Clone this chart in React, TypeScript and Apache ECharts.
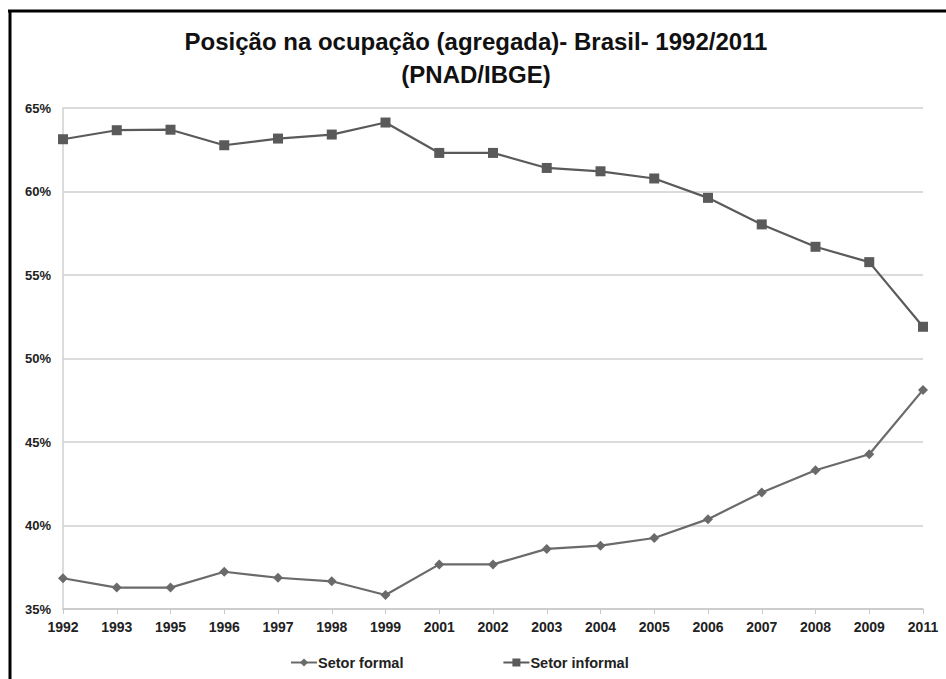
import React, { useEffect, useRef } from "react";
import * as echarts from "echarts";

const years = ["1992","1993","1995","1996","1997","1998","1999","2001","2002","2003","2004","2005","2006","2007","2008","2009","2011"];
const setorFormal = [36.84,36.28,36.28,37.23,36.87,36.66,35.84,37.67,37.67,38.6,38.79,39.25,40.38,41.98,43.31,44.27,48.12];
const setorInformal = [63.13,63.67,63.7,62.77,63.17,63.41,64.13,62.31,62.31,61.41,61.21,60.78,59.62,58.03,56.69,55.77,51.9];
const yTicks = { min: 35, max: 65, interval: 5 };
const titleLines = ["Posição na ocupação (agregada)- Brasil- 1992/2011", "(PNAD/IBGE)"];

const FONT = "'Liberation Sans', Arial, sans-serif";

export default function App() {
  const ref = useRef<HTMLDivElement>(null);
  useEffect(() => {
    if (!ref.current) return;
    const chart = echarts.init(ref.current, undefined, { renderer: "svg" });
    chart.setOption({
      animation: false,
      backgroundColor: "#ffffff",
      grid: { left: 63, right: 23, top: 108, bottom: 70, containLabel: false },
      legend: {
        top: 650,
        left: 285,
        itemGap: 99,
        itemWidth: 26,
        itemHeight: 10,
        textStyle: { fontFamily: FONT, fontWeight: "bold", fontSize: 14.5, color: "#222", padding: [0, 0, 0, -4] },
        data: ["Setor formal", "Setor informal"],
      },
      graphic: [
        { type: "line", shape: { x1: 8, y1: 11, x2: 946, y2: 11 }, style: { stroke: "#000", lineWidth: 3 } },
        { type: "line", shape: { x1: 10, y1: 10, x2: 10, y2: 679 }, style: { stroke: "#000", lineWidth: 3 } },
        {
          type: "text",
          x: 476,
          y: 41,
          style: { text: titleLines[0], textAlign: "center", textVerticalAlign: "middle", font: "bold 24px " + FONT, fill: "#111" },
        },
        {
          type: "text",
          x: 476,
          y: 74,
          style: { text: titleLines[1], textAlign: "center", textVerticalAlign: "middle", font: "bold 24px " + FONT, fill: "#111" },
        },
      ],
      xAxis: {
        type: "category",
        data: years,
        boundaryGap: false,
        axisLine: { lineStyle: { color: "#c8c8c8", width: 1.5 } },
        axisTick: { show: true, length: 5, lineStyle: { color: "#c8c8c8" } },
        axisLabel: { fontFamily: FONT, fontWeight: "bold", fontSize: 14, color: "#222", margin: 11 },
        splitLine: { show: false },
      },
      yAxis: {
        type: "value",
        min: yTicks.min,
        max: yTicks.max,
        interval: yTicks.interval,
        axisLine: { show: true, lineStyle: { color: "#d0d0d0", width: 1.5 } },
        axisTick: { show: false },
        axisLabel: { fontFamily: FONT, fontWeight: "bold", fontSize: 13, color: "#222", margin: 12, formatter: (v: number) => v + "%" },
        splitLine: { lineStyle: { color: "#cfcfcf", width: 1.5 } },
      },
      series: [
        {
          name: "Setor formal",
          type: "line",
          data: setorFormal,
          symbol: "diamond",
          symbolSize: 10,
          lineStyle: { color: "#6a6a6a", width: 2.2 },
          itemStyle: { color: "#6a6a6a" },
        },
        {
          name: "Setor informal",
          type: "line",
          data: setorInformal,
          symbol: "rect",
          symbolSize: 10,
          lineStyle: { color: "#5a5a5a", width: 2.2 },
          itemStyle: { color: "#5a5a5a" },
        },
      ],
    });
    return () => chart.dispose();
  }, []);
  return <div ref={ref} style={{ position: "fixed", left: 0, top: 0, width: 946, height: 679 }} />;
}
